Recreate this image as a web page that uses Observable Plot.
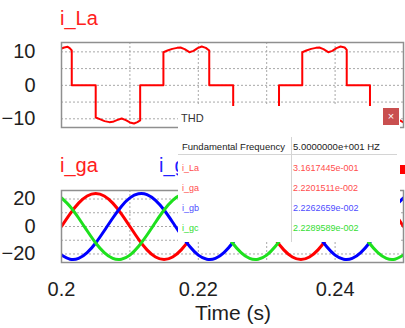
<!DOCTYPE html>
<html><head><meta charset="utf-8">
<script src="https://cdn.jsdelivr.net/npm/d3@7"></script>
<script src="https://cdn.jsdelivr.net/npm/@observablehq/plot@0.6"></script>
<style>
body{margin:0;background:#fff;}
#wrap{position:relative;width:405px;height:328px;overflow:hidden;font-family:"Liberation Sans",Arial,sans-serif;background:#fff;}
#wrap svg{position:absolute;left:0;}
.dlg{position:absolute;background:#fff;}
.dlg div{position:absolute;white-space:nowrap;line-height:12px;}
</style></head><body><div id="wrap"></div>
<script>
// ---- data ----
// Load current i_La (top panel)
const laT = [
0.2000, 0.2004, 0.2009, 0.2012, 0.2015,
0.2015, 0.2050,
0.2050, 0.2056, 0.2063, 0.2070, 0.2075, 0.2081, 0.2088, 0.2094, 0.2100, 0.2106, 0.2111, 0.2115,
0.2115, 0.2149,
0.2149, 0.2155, 0.2162, 0.2169, 0.2174, 0.2180, 0.2187, 0.2193, 0.2199, 0.2205, 0.2211, 0.2216,
0.2216, 0.2251,
0.2251, 0.2257, 0.2264, 0.2271, 0.2276, 0.2282, 0.2289, 0.2295, 0.2301, 0.2307, 0.2313, 0.2318,
0.2318, 0.2352,
0.2352, 0.2358, 0.2365, 0.2372, 0.2377, 0.2383, 0.2390, 0.2396, 0.2402, 0.2408, 0.2414, 0.2417,
0.2417, 0.2451,
0.2451, 0.2457, 0.2464, 0.2470, 0.2475, 0.2481, 0.2488, 0.2494, 0.2500
];
const laV = [
11.0, 11.3, 11.5, 11.1, 10.4,
0, 0,
-9.6, -10.1, -10.7, -11.0, -10.9, -10.4, -9.9, -10.4, -11.1, -11.4, -11.0, -10.5,
0, 0,
9.9, 10.4, 10.9, 11.2, 11.3, 10.8, 9.9, 10.3, 11.1, 11.6, 11.2, 10.4,
0, 0,
-9.6, -10.1, -10.7, -11.0, -10.9, -10.4, -9.9, -10.4, -11.1, -11.4, -11.0, -10.5,
0, 0,
9.9, 10.4, 10.9, 11.2, 11.3, 10.8, 9.9, 10.3, 11.1, 11.6, 11.3, 10.6,
0, 0,
-9.6, -10.1, -10.7, -11.0, -10.9, -10.4, -9.9, -10.4, -11.1
];
// Grid currents (bottom panel)
const gT = [
0.2, 0.20125, 0.2025, 0.20375, 0.205, 0.20625, 0.2075, 0.20875,
0.21, 0.21125, 0.2125, 0.21375, 0.215, 0.21625, 0.2175, 0.21875,
0.22, 0.22125, 0.2225, 0.22375, 0.225, 0.22625, 0.2275, 0.22875,
0.23, 0.23125, 0.2325, 0.23375, 0.235, 0.23625, 0.2375, 0.23875,
0.24, 0.24125, 0.2425, 0.24375, 0.245, 0.24625, 0.2475, 0.24875, 0.25
];
const gaV = [
0, 9.2, 17.0, 22.2, 24.0, 22.2, 17.0, 9.2, 0, -9.2, -17.0, -22.2, -24.0, -22.2, -17.0, -9.2,
0, 9.2, 17.0, 22.2, 24.0, 22.2, 17.0, 9.2, 0, -9.2, -17.0, -22.2, -24.0, -22.2, -17.0, -9.2,
0, 9.2, 17.0, 22.2, 24.0, 22.2, 17.0, 9.2, 0
];
const gbV = [
-20.8, -23.8, -23.2, -19.0, -12.0, -3.1, 6.2, 14.6, 20.8, 23.8, 23.2, 19.0, 12.0, 3.1, -6.2, -14.6,
-20.8, -23.8, -23.2, -19.0, -12.0, -3.1, 6.2, 14.6, 20.8, 23.8, 23.2, 19.0, 12.0, 3.1, -6.2, -14.6,
-20.8, -23.8, -23.2, -19.0, -12.0, -3.1, 6.2, 14.6, 20.8
];
const gcV = [
20.8, 14.6, 6.2, -3.1, -12.0, -19.0, -23.2, -23.8, -20.8, -14.6, -6.2, 3.1, 12.0, 19.0, 23.2, 23.8,
20.8, 14.6, 6.2, -3.1, -12.0, -19.0, -23.2, -23.8, -20.8, -14.6, -6.2, 3.1, 12.0, 19.0, 23.2, 23.8,
20.8, 14.6, 6.2, -3.1, -12.0, -19.0, -23.2, -23.8, -20.8
];
const topTicks = [10, 0, -10];
const topGrid = [-10, -5, 0, 5, 10];
const botTicks = [20, 0, -20];
const botGrid = [-20, -10, 0, 10, 20];
const xTicks = [0.2, 0.22, 0.24];
const xGrid = [0.21, 0.22, 0.23, 0.24];
const titles = ["i_La", "i_ga", "i_gb"];
const xLabel = "Time (s)";
// THD dialog
const thdTitle = "THD";
const thdHeader = ["Fundamental Frequency", "5.0000000e+001 HZ"];
const thdSignals = ["i_La", "i_ga", "i_gb", "i_gc"];
const thdValues = ["3.1617445e-001", "2.2201511e-002", "2.2262659e-002", "2.2289589e-002"];

// ---- styles ----
const C = {red: "#ff0000", blue: "#0000ff", green: "#1ee01e"};
const textCol = {i_La: "#ff4d4d", i_ga: "#ff4d4d", i_gb: "#4d4dff", i_gc: "#33dd33"};
const gridStyle = {stroke: "#a8a8a8", strokeOpacity: 1, strokeDasharray: "2,2", strokeWidth: 1};
const font = "Liberation Sans, Arial, sans-serif";

const wrap = document.getElementById("wrap");

const la = laT.map((t, i) => ({t, v: laV[i]}));
const g = [];
gT.forEach((t, i) => {
  g.push({t, v: gaV[i], s: "i_ga"});
});
gT.forEach((t, i) => {
  g.push({t, v: gbV[i], s: "i_gb"});
});
gT.forEach((t, i) => {
  g.push({t, v: gcV[i], s: "i_gc"});
});

const topChart = Plot.plot({
  width: 405, height: 130,
  marginTop: 42, marginBottom: 3, marginLeft: 61, marginRight: 2,
  style: {background: "transparent", color: "#1e1e1e", fontFamily: font},
  x: {domain: [0.2, 0.25], axis: null},
  y: {domain: [-12.6, 12.8], label: null},
  marks: [
    Plot.gridX(xGrid, gridStyle),
    Plot.gridY(topGrid, gridStyle),
    Plot.line(la, {x: "t", y: "v", stroke: C.red, strokeWidth: 2, clip: true}),
    Plot.frame({stroke: "#8f8f8f", strokeWidth: 1.5}),
    Plot.axisY(topTicks, {tickSize: 0, tickPadding: 26, fontSize: 20, label: null})
  ]
});
topChart.style.top = "0px";
wrap.appendChild(topChart);

const botChart = Plot.plot({
  width: 405, height: 148,
  marginTop: 10, marginBottom: 66, marginLeft: 61, marginRight: 2,
  style: {background: "transparent", color: "#1e1e1e", fontFamily: font},
  x: {domain: [0.2, 0.25]},
  y: {domain: [-26.2, 26.2], label: null},
  color: {domain: ["i_ga", "i_gb", "i_gc"], range: [C.red, C.blue, C.green]},
  marks: [
    Plot.gridX(xGrid, gridStyle),
    Plot.gridY(botGrid, gridStyle),
    Plot.line(g, {x: "t", y: "v", z: "s", stroke: "s", strokeWidth: 3, curve: "natural", clip: true}),
    Plot.frame({stroke: "#8f8f8f", strokeWidth: 1.5}),
    Plot.axisY(botTicks, {tickSize: 0, tickPadding: 26, fontSize: 20, label: null}),
    Plot.axisX(xTicks, {tickSize: 0, tickPadding: 19, fontSize: 20, label: null, tickFormat: d => String(d)})
  ]
});
botChart.style.top = "180px";
wrap.appendChild(botChart);

// titles & axis label overlay
const ov = d3.create("svg").attr("width", 405).attr("height", 328)
  .style("top", "0px").style("font-family", font);
ov.append("text").attr("x", 60).attr("y", 25).attr("font-size", 20).attr("fill", "#ff2020").text(titles[0]);
ov.append("text").attr("x", 60).attr("y", 172).attr("font-size", 20).attr("fill", "#ff2020").text(titles[1]);
ov.append("text").attr("x", 159).attr("y", 172).attr("font-size", 20).attr("fill", "#2020ff").text(titles[2]);
ov.append("text").attr("x", 233).attr("y", 320).attr("font-size", 21).attr("text-anchor", "middle").attr("fill", "#1e1e1e").text(xLabel);
ov.append("rect").attr("x", 400).attr("y", 165).attr("width", 5).attr("height", 9).attr("fill", "#ff0000");
wrap.appendChild(ov.node());

// THD dialog
const dlg = document.createElement("div");
dlg.className = "dlg";
Object.assign(dlg.style, {left: "178px", top: "106px", width: "222px", height: "136px"});
function addText(txt, x, cy, size, color) {
  const d = document.createElement("div");
  d.textContent = txt;
  Object.assign(d.style, {left: x + "px", top: (cy - 6) + "px", fontSize: size + "px", color});
  dlg.appendChild(d);
  return d;
}
addText(thdTitle, 3, 12, 11, "#333");
const btn = document.createElement("div");
btn.textContent = "×";
Object.assign(btn.style, {left: "205px", top: "2px", width: "16px", height: "17px", background: "#c94f4f", color: "#fff",
  fontSize: "11px", lineHeight: "17px", textAlign: "center"});
dlg.appendChild(btn);
addText(thdHeader[0], 4, 41, 9.5, "#222");
addText(thdHeader[1], 115, 41, 9.5, "#222");
const hl = document.createElement("div");
Object.assign(hl.style, {left: "0px", top: "48px", width: "219px", height: "1px", background: "#d4d4d4"});
dlg.appendChild(hl);
const vl = document.createElement("div");
Object.assign(vl.style, {left: "113px", top: "31px", width: "1px", height: "105px", background: "#d4d4d4"});
dlg.appendChild(vl);
thdSignals.forEach((s, i) => {
  const cy = 62 + i * 20;
  addText(s, 4, cy, 9, textCol[s]);
  addText(thdValues[i], 115, cy, 9, textCol[s]);
});
wrap.appendChild(dlg);
</script>
</body></html>
